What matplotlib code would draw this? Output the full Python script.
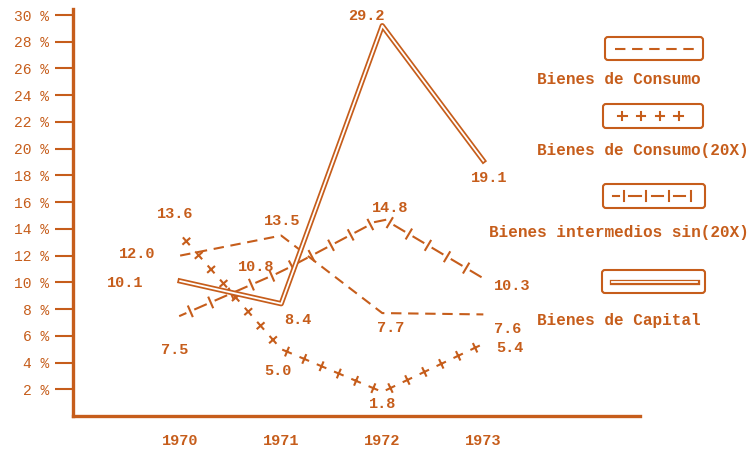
import numpy as np
import matplotlib
matplotlib.use("Agg")
import matplotlib.pyplot as plt
import matplotlib.patheffects as pe
from matplotlib.path import Path
from matplotlib.transforms import IdentityTransform
from matplotlib.patches import FancyBboxPatch

# Datos (%)
anios = [1970, 1971, 1972, 1973]
consumo = [12.0, 13.5, 7.7, 7.6]
consumo_20x = [13.6, 5.0, 1.8, 5.4]
intermedios = [7.5, 10.8, 14.8, 10.3]
capital = [10.1, 8.4, 29.2, 19.1]

nombres = ["Bienes de Consumo", "Bienes de Consumo(20X)",
           "Bienes intermedios sin(20X)", "Bienes de Capital"]
marcas_y = list(range(2, 31, 2))

COLOR = "#c65d1b"
FUENTE = "Liberation Mono"


class Patron(pe.AbstractPathEffect):
    """Dibuja cruces (+) o el patron -|-|- a lo largo de la linea."""

    def __init__(self, tipo, espacio, largo, **kw):
        super().__init__()
        self.tipo = tipo
        self.espacio = espacio
        self.largo = largo
        self._gc = kw

    def draw_path(self, renderer, gc, tpath, affine, rgbFace=None):
        gc0 = renderer.new_gc()
        gc0.copy_properties(gc)
        gc0 = self._update_gc(gc0, self._gc)
        sp = renderer.points_to_pixels(self.espacio)
        ln = renderer.points_to_pixels(self.largo)
        xy = affine.transform(tpath.vertices)
        d = np.hypot(*np.diff(xy, axis=0).T)
        s = np.concatenate([[0.0], np.cumsum(d)])

        def en(t):
            return np.column_stack([np.interp(t, s, xy[:, 0]),
                                    np.interp(t, s, xy[:, 1])])

        t = np.arange(sp / 2, s[-1], sp)
        p = en(t)
        tan = en(t + 0.5) - en(t - 0.5)
        tan /= np.hypot(*tan.T)[:, None]
        nor = tan[:, ::-1] * [-1, 1]
        segs = [(p - nor * ln, p + nor * ln)]
        if self.tipo == "cruz":
            segs.append((p - tan * ln, p + tan * ln))
        else:
            hueco = 0.24 * sp
            t2 = t[t + sp - hueco <= s[-1]]
            segs.append((en(t2 + hueco), en(t2 + sp - hueco)))
            segs.append((en(np.array([0.0])), en(np.array([sp / 2 - hueco]))))
        verts, codes = [], []
        for a, b in segs:
            for i in range(len(a)):
                verts += [a[i], b[i]]
                codes += [Path.MOVETO, Path.LINETO]
        if verts:
            renderer.draw_path(gc0, Path(np.array(verts), codes),
                               IdentityTransform())
        gc0.restore()


doble = [pe.Stroke(linewidth=3.8, foreground=COLOR),
         pe.Stroke(linewidth=1.3, foreground="white")]
cruces = [Patron("cruz", 13.5, 3.0)]
guiones = [Patron("guion", 16.0, 3.8)]

fig = plt.figure(figsize=(7.51, 4.57), dpi=100)
ax = fig.add_axes([73 / 751, 41 / 457, 567 / 751, 407 / 457])

ax.plot(anios, consumo, color=COLOR, lw=1.5, ls=(0, (5, 3.2)))
ax.plot(anios, consumo_20x, color=COLOR, lw=1.5, path_effects=cruces)
ax.plot(anios, intermedios, color=COLOR, lw=1.5, path_effects=guiones)
ax.plot(anios, capital, color=COLOR, lw=3.8, path_effects=doble)

desp = {
    "consumo": [(-43, 2), (1, 15), (8, -15), (24, -15)],
    "consumo_20x": [(-5, 20), (-3, -22), (0, -12), (27, -4)],
    "intermedios": [(-5, -34), (-25, 5), (8, 10), (29, -8)],
    "capital": [(-55, -2), (17, -16), (-16, 10), (6, -17)],
}
series = {"consumo": consumo, "consumo_20x": consumo_20x,
          "intermedios": intermedios, "capital": capital}
for k, vals in series.items():
    for x, v, off in zip(anios, vals, desp[k]):
        ax.annotate(f"{v:.1f}", (x, v), xytext=off, textcoords="offset pixels",
                    ha="center", va="center", color=COLOR, fontsize=11,
                    family=FUENTE, fontweight="bold")

ax.set_xlim(1970 - 1.06, 1970 + 4.55)
ax.set_ylim(0, 30.45)
ax.set_yticks(marcas_y)
ax.set_yticklabels([f"{m} %" for m in marcas_y], family=FUENTE, fontsize=10.5,
                   color=COLOR)
ax.set_xticks(anios)
ax.set_xticklabels([str(a) for a in anios], family=FUENTE, fontsize=11,
                   fontweight="bold", color=COLOR)
ax.tick_params(axis="y", length=13, width=1.5, color=COLOR, pad=4)
ax.tick_params(axis="x", length=0, pad=13)
for lado in ["top", "right"]:
    ax.spines[lado].set_visible(False)
for lado in ["left", "bottom"]:
    ax.spines[lado].set_color(COLOR)
    ax.spines[lado].set_linewidth(2.4)

# Leyenda dibujada a mano (coordenadas en pixeles de la figura)
lg = fig.add_axes([0, 0, 1, 1])
lg.set_xlim(0, 751)
lg.set_ylim(457, 0)
lg.axis("off")
cajas = [(605, 37, 98, 23), (603, 104, 100, 24), (603, 184, 102, 24),
         (602, 270, 103, 23)]
estilos = [dict(ls=(0, (5, 3.2))), dict(path_effects=cruces),
           dict(path_effects=guiones), dict(lw=3.8, path_effects=doble)]
for (x0, y0, w, h), est in zip(cajas, estilos):
    lg.add_patch(FancyBboxPatch((x0, y0), w, h,
                                boxstyle="round,pad=0,rounding_size=3",
                                fill=False, ec=COLOR, lw=1.5))
    kw = dict(color=COLOR, lw=1.5)
    kw.update(est)
    lg.plot([x0 + 10, x0 + w - 8], [y0 + h / 2, y0 + h / 2], **kw)

textos = [(537, 80, "left"), (537, 150, "left"), (749, 232, "right"),
          (537, 320, "left")]
for (x, y, ha), nombre in zip(textos, nombres):
    lg.text(x, y, nombre, ha=ha, va="center", color=COLOR, fontsize=11.5,
            family=FUENTE, fontweight="bold")

fig.savefig("out.png", dpi=100)
